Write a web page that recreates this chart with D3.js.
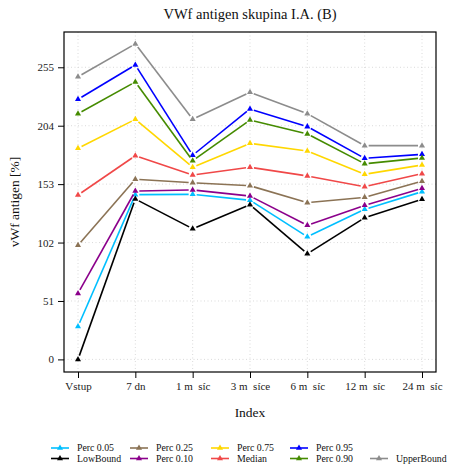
<!DOCTYPE html>
<html><head><meta charset="utf-8">
<script src="https://cdn.jsdelivr.net/npm/d3@7"></script>
<style>
html,body{margin:0;padding:0;background:#fff;}
svg, svg text{font-family:"Liberation Serif","Times New Roman",serif !important;}
</style></head>
<body><div id="chart"></div>
<script>
const categories = ["Vstup","7 dn","1 m\u00a0\u00a0síc","3 m\u00a0\u00a0síce","6 m\u00a0\u00a0síc","12 m\u00a0\u00a0síc","24 m\u00a0\u00a0síc"];
const yTicks = [0,51,102,153,204,255];

const perc05    = [28.8, 143.8, 144.1, 138.9, 107.1, 131.0, 146.4];
const lowBound  = [0.0, 140.0, 114.1, 135.0, 92.2, 123.7, 139.7];
const perc25    = [99.6, 157.2, 154.2, 151.6, 136.8, 141.5, 155.5];
const perc10    = [57.6, 147.0, 147.9, 142.6, 117.0, 134.5, 149.3];
const perc75    = [184.3, 209.6, 167.7, 188.6, 181.9, 161.6, 169.7];
const median    = [143.5, 177.8, 161.0, 167.7, 160.1, 150.8, 162.1];
const perc95    = [227.0, 257.0, 178.2, 218.6, 203.2, 175.5, 179.0];
const perc90    = [214.5, 242.2, 173.5, 209.0, 196.8, 170.8, 175.8];
const upperBound= [246.8, 275.4, 209.6, 233.2, 214.5, 186.6, 186.6];

const seriesNames  = ["Perc 0.05","LowBound","Perc 0.25","Perc 0.10","Perc 0.75","Median","Perc 0.95","Perc 0.90","UpperBound"];
const seriesValues = [perc05, lowBound, perc25, perc10, perc75, median, perc95, perc90, upperBound];
const seriesColors = ["#00BFFF","#000000","#8B7355","#8B008B","#FFD700","#F04848","#0000FF","#458B00","#8C8C8C"];
// legend slots (column, row)
const legendSlots = [[0,0],[0,1],[1,0],[1,1],[2,0],[2,1],[3,0],[3,1],[4,1]];

const W = 450, H = 470;
const box = {left:64, right:436, top:32, bottom:372};
const FONT = '"Liberation Serif", "Times New Roman", serif';

const svg = d3.select("#chart").append("svg").attr("width",W).attr("height",H);

const x = d3.scalePoint().domain(categories).range([78, 422]);
const y = d3.scaleLinear().domain([-11, 285.8]).range([box.bottom, box.top]);

// grid
const g = svg.append("g");
g.selectAll(".vg").data(categories).join("line")
  .attr("x1", d=>x(d)).attr("x2", d=>x(d))
  .attr("y1", box.top).attr("y2", box.bottom)
  .attr("stroke","#d0d0d0").attr("stroke-width",0.8).attr("stroke-dasharray","1,2.5");
g.selectAll(".hg").data(yTicks).join("line")
  .attr("x1", box.left).attr("x2", box.right)
  .attr("y1", d=>y(d)).attr("y2", d=>y(d))
  .attr("stroke","#d0d0d0").attr("stroke-width",0.8).attr("stroke-dasharray","1,2.5");

// axes
const xAxis = d3.axisBottom(x).tickSize(6).tickSizeOuter(0).tickPadding(4);
const yAxis = d3.axisLeft(y).tickValues(yTicks).tickSize(6).tickSizeOuter(0).tickPadding(4);
const xa = svg.append("g").attr("transform",`translate(0,${box.bottom})`).call(xAxis).attr("font-family",null);
xa.select(".domain").remove();
xa.selectAll("text").attr("font-size",11).attr("fill","#222").style("font-family",FONT);
xa.selectAll("line").attr("stroke","#000");
const ya = svg.append("g").attr("transform",`translate(${box.left},0)`).call(yAxis).attr("font-family",null);
ya.select(".domain").remove();
ya.selectAll("text").attr("font-size",11).attr("fill","#222").style("font-family",FONT);
ya.selectAll("line").attr("stroke","#000");

// box
svg.append("rect").attr("x",box.left).attr("y",box.top)
  .attr("width",box.right-box.left).attr("height",box.bottom-box.top)
  .attr("fill","none").attr("stroke","#000").attr("stroke-width",1.2);

// series: line segments with gaps around points (type "b")
const tri = d3.symbol().type(d3.symbolTriangle).size(16);
const gap = 4;
seriesValues.forEach((vals, si) => {
  const pts = vals.map((v,i)=>[x(categories[i]), y(v)]);
  const sg = svg.append("g");
  for (let i=0;i<pts.length-1;i++){
    const [x1,y1]=pts[i],[x2,y2]=pts[i+1];
    const dx=x2-x1, dy=y2-y1, L=Math.hypot(dx,dy);
    if (L<=2*gap) continue;
    const ux=dx/L, uy=dy/L;
    sg.append("line")
      .attr("x1",x1+ux*gap).attr("y1",y1+uy*gap)
      .attr("x2",x2-ux*gap).attr("y2",y2-uy*gap)
      .attr("stroke",seriesColors[si]).attr("stroke-width",1.6);
  }
  sg.selectAll("path").data(pts).join("path")
    .attr("d",tri).attr("transform",d=>`translate(${d[0]},${d[1]})`)
    .attr("fill",seriesColors[si]);
});

// title and labels
svg.append("text").attr("x",250).attr("y",19).attr("text-anchor","middle").style("font-family",FONT)
  .attr("font-size",14.5).attr("fill","#111").text("VWf antigen skupina I.A. (B)");
svg.append("text").attr("x",250).attr("y",417).attr("text-anchor","middle").style("font-family",FONT)
  .attr("font-size",13.5).attr("fill","#111").text("Index");
svg.append("text").attr("transform","translate(19,202) rotate(-90)").attr("text-anchor","middle").style("font-family",FONT)
  .attr("font-size",13.5).attr("fill","#111").text("vWf antigen [%]");

// legend
const colX = [51,130,211,290,370];
const rowY = [448,458.5];
const lg = svg.append("g");
seriesNames.forEach((name, si) => {
  const [c,r] = legendSlots[si];
  const lx = colX[c], ly = rowY[r];
  lg.append("line").attr("x1",lx).attr("x2",lx+18).attr("y1",ly).attr("y2",ly)
    .attr("stroke",seriesColors[si]).attr("stroke-width",1.6);
  lg.append("path").attr("d",tri).attr("transform",`translate(${lx+9},${ly})`).attr("fill",seriesColors[si]);
  lg.append("text").attr("x",lx+26).attr("y",ly+3.3).style("font-family",FONT).attr("font-size",9.8).attr("fill","#111").text(name);
});
</script>
</body></html>
